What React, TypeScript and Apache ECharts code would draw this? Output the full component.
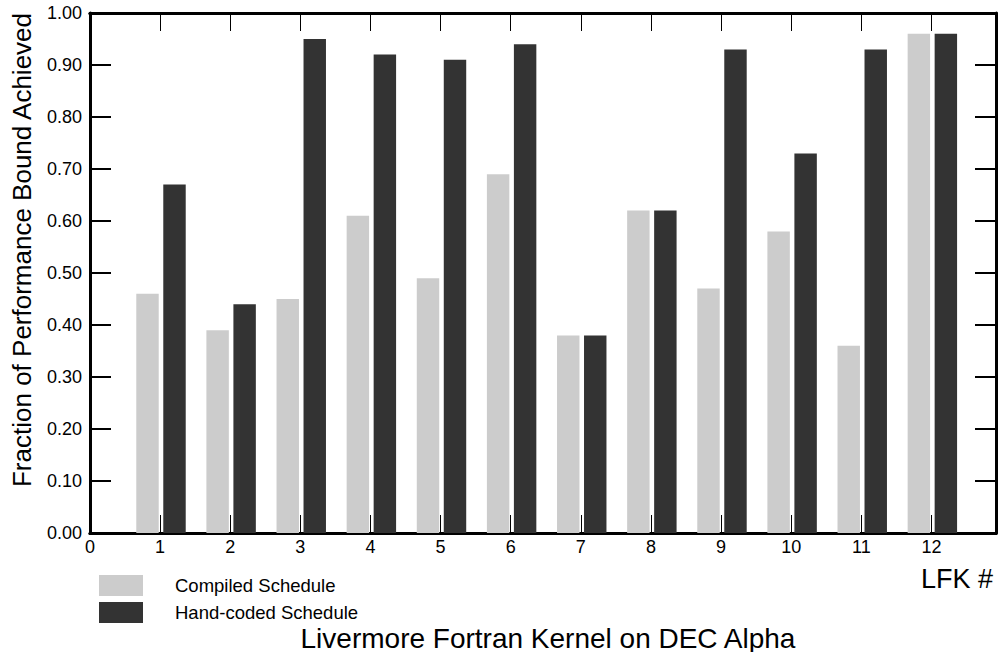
import React, { useEffect, useRef } from "react";
import * as echarts from "echarts";

const kernels = [1, 2, 3, 4, 5, 6, 7, 8, 9, 10, 11, 12];
const compiled = [0.46, 0.39, 0.45, 0.61, 0.49, 0.69, 0.38, 0.62, 0.47, 0.58, 0.36, 0.96];
const handCoded = [0.67, 0.44, 0.95, 0.92, 0.91, 0.94, 0.38, 0.62, 0.93, 0.73, 0.93, 0.96];
const seriesNames = ["Compiled Schedule", "Hand-coded Schedule"];
const colors = ["#cccccc", "#333333"];
const title = "Livermore Fortran Kernel on DEC Alpha";
const yTitle = "Fraction of Performance Bound Achieved";
const xTitle = "LFK #";

const FONT = "'Liberation Sans', Arial, Helvetica, sans-serif";
const BAR_W = 0.32;
const X_MAX = 12.92;
const GRID_H = 520;

function makeRender(offset: number, color: string) {
  return (params: any, api: any) => {
    const x = api.value(0) + offset;
    const y = api.value(1);
    const p1 = api.coord([x - BAR_W / 2, y]);
    const p0 = api.coord([x + BAR_W / 2, 0]);
    return {
      type: "rect",
      shape: { x: p1[0], y: p1[1], width: p0[0] - p1[0], height: p0[1] - p1[1] },
      style: { fill: color },
    };
  };
}

export default function App() {
  const ref = useRef<HTMLDivElement>(null);
  useEffect(() => {
    if (!ref.current) return;
    const chart = echarts.init(ref.current, undefined, { renderer: "svg" });
    chart.setOption({
      animation: false,
      backgroundColor: "#fff",
      textStyle: { fontFamily: FONT },
      grid: { left: 90, right: 4, top: 13, bottom: 119, containLabel: false },
      legend: {
        orient: "vertical",
        left: 94,
        top: 570,
        itemWidth: 44,
        itemHeight: 21,
        itemGap: 6,
        icon: "rect",
        selectedMode: false,
        data: seriesNames,
        textStyle: { fontFamily: FONT, fontSize: 18.5, color: "#000", padding: [0, 0, 0, 27] },
      },
      xAxis: [
        {
          type: "value",
          min: 0,
          max: X_MAX,
          interval: 1,
          position: "bottom",
          axisLine: { show: true, onZero: false, lineStyle: { color: "#000", width: 3 } },
          axisTick: { show: false },
          splitLine: { show: false },
          axisLabel: {
            show: true,
            color: "#000",
            fontSize: 18,
            fontFamily: FONT,
            margin: 5,
            formatter: (v: number) => (Math.abs(v - Math.round(v)) < 1e-6 ? String(Math.round(v)) : ""),
          },
        },
        {
          type: "value",
          min: 0,
          max: X_MAX,
          interval: 1,
          position: "top",
          axisLine: { show: true, onZero: false, lineStyle: { color: "#000", width: 3 } },
          axisTick: { show: false },
          splitLine: { show: false },
          axisLabel: { show: false },
        },
        {
          type: "value",
          min: 0,
          max: X_MAX,
          interval: 1,
          position: "bottom",
          offset: -GRID_H,
          axisLine: { show: true, onZero: false, lineStyle: { color: "#000", width: 3 } },
          axisTick: { show: true, inside: false, length: 18 },
          splitLine: { show: false },
          axisLabel: { show: false },
        },
        {
          type: "value",
          min: 0,
          max: X_MAX,
          interval: 1,
          position: "top",
          offset: -GRID_H,
          axisLine: { show: true, onZero: false, lineStyle: { color: "#000", width: 3 } },
          axisTick: { show: true, inside: false, length: 18 },
          splitLine: { show: false },
          axisLabel: { show: false },
        },
      ],
      yAxis: [
        {
          type: "value",
          min: 0,
          max: 1,
          interval: 0.1,
          position: "left",
          axisLine: { show: true, onZero: false, lineStyle: { color: "#000", width: 3 } },
          splitLine: { show: false },
          axisTick: { show: true, inside: true, length: 21, lineStyle: { width: 2 } },
          axisLabel: {
            show: true,
            color: "#000",
            fontSize: 18,
            fontFamily: FONT,
            margin: 8,
            formatter: (v: number) => v.toFixed(2),
          },
        },
        {
          type: "value",
          min: 0,
          max: 1,
          interval: 0.1,
          position: "right",
          axisLine: { show: true, onZero: false, lineStyle: { color: "#000", width: 3 } },
          splitLine: { show: false },
          axisTick: { show: true, inside: true, length: 21, lineStyle: { width: 2 } },
          axisLabel: { show: false },
        },
      ],
      series: [
        {
          name: seriesNames[0],
          type: "custom",
          xAxisIndex: 0,
          yAxisIndex: 0,
          itemStyle: { color: colors[0] },
          renderItem: makeRender(-0.18, colors[0]),
          data: kernels.map((k, i) => [k, compiled[i]]),
        },
        {
          name: seriesNames[1],
          type: "custom",
          xAxisIndex: 0,
          yAxisIndex: 0,
          itemStyle: { color: colors[1] },
          renderItem: makeRender(0.205, colors[1]),
          data: kernels.map((k, i) => [k, handCoded[i]]),
        },
      ],
      graphic: [
        {
          type: "text",
          x: 22,
          y: 250,
          rotation: Math.PI / 2,
          style: { text: yTitle, fontFamily: FONT, fontSize: 26, fill: "#000", align: "center", verticalAlign: "middle" },
        },
        {
          type: "text",
          x: 993,
          y: 579,
          style: { text: xTitle, fontFamily: FONT, fontSize: 27, fill: "#000", align: "right", verticalAlign: "middle" },
        },
        {
          type: "text",
          x: 548,
          y: 638,
          style: { text: title, fontFamily: FONT, fontSize: 28, fill: "#000", align: "center", verticalAlign: "middle" },
        },
      ],
    });
    return () => chart.dispose();
  }, []);
  return <div ref={ref} style={{ width: 1000, height: 652, position: "absolute", left: 0, top: 0 }} />;
}
